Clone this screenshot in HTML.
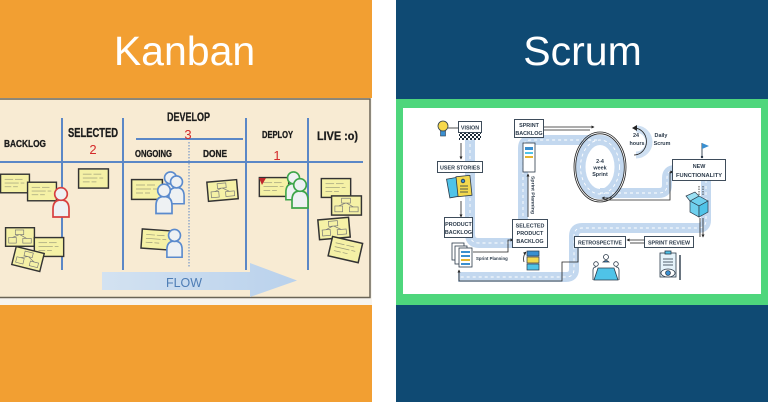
<!DOCTYPE html>
<html><head><meta charset="utf-8"><style>
html,body{margin:0;padding:0;background:#fff;}
svg{display:block;}
</style></head><body>
<svg width="768" height="402" viewBox="0 0 768 402" xmlns="http://www.w3.org/2000/svg">
<defs>
  <symbol id="note" viewBox="0 0 32 21" overflow="visible">
    <rect x="0.6" y="0.6" width="30.8" height="19.8" fill="#F5F1A6" stroke="#333" stroke-width="1.5"/>
    <g stroke="#9a9a7a" stroke-width="0.7">
      <line x1="5" y1="6" x2="14" y2="6"/><line x1="16" y1="6" x2="24" y2="6"/>
      <line x1="5" y1="10" x2="20" y2="10"/><line x1="22" y1="10" x2="26" y2="10"/>
      <line x1="5" y1="14" x2="12" y2="14"/><line x1="14" y1="14" x2="19" y2="14"/>
    </g>
  </symbol>
  <symbol id="notediag" viewBox="0 0 32 21" overflow="visible">
    <rect x="0.6" y="0.6" width="30.8" height="19.8" fill="#F5F1A6" stroke="#333" stroke-width="1.5"/>
    <g stroke="#777" stroke-width="0.7" fill="none">
      <rect x="11" y="3" width="9" height="5"/><rect x="4" y="11" width="8" height="6"/><rect x="19" y="12" width="9" height="5"/>
      <line x1="15" y1="8" x2="8" y2="11"/><line x1="16" y1="8" x2="23" y2="12"/>
    </g>
  </symbol>
  <symbol id="person" viewBox="0 0 20 32" overflow="visible">
    <path d="M2,31 L2,23 Q2,14 10,14 Q18,14 18,23 L18,31 Z" fill="#EEF1F3" stroke="currentColor" stroke-width="1.7"/>
    <circle cx="10" cy="8" r="6.3" fill="#EEF1F3" stroke="currentColor" stroke-width="1.7"/>
  </symbol>
  <pattern id="checker" width="4" height="4" patternUnits="userSpaceOnUse">
    <rect width="4" height="4" fill="#fff"/><rect width="2" height="2" fill="#1c2a38"/><rect x="2" y="2" width="2" height="2" fill="#1c2a38"/>
  </pattern>
  <marker id="ah" viewBox="0 0 6 6" refX="5" refY="3" markerWidth="4" markerHeight="4" orient="auto">
    <path d="M0,0 L6,3 L0,6 Z" fill="#222"/>
  </marker>
  <linearGradient id="flowg" x1="0" x2="1" y1="0" y2="0">
    <stop offset="0" stop-color="#D3E2F1"/><stop offset="1" stop-color="#B9D1EC"/>
  </linearGradient>
</defs>

<!-- backgrounds -->
<rect x="0" y="0" width="768" height="402" fill="#fff"/>
<rect x="0" y="0" width="372" height="402" fill="#F29F32"/>
<rect x="396" y="0" width="372" height="402" fill="#0F4A73"/>

<text x="184.5" y="65" font-family="Liberation Sans, sans-serif" font-size="41" fill="#fff" text-anchor="middle">Kanban</text>
<text x="582.5" y="65" font-family="Liberation Sans, sans-serif" font-size="41" fill="#fff" text-anchor="middle">Scrum</text>

<!-- ============ KANBAN ============ -->
<rect x="0" y="98" width="372" height="207" fill="#F7F4EE"/>
<rect x="-2" y="99" width="372" height="198.5" fill="#F8EBD3" stroke="#6a6456" stroke-width="1.5"/>

<g stroke="#5B87C6" stroke-width="2" fill="none">
  <line x1="0" y1="162" x2="363" y2="162"/>
  <line x1="62" y1="118" x2="62" y2="270"/>
  <line x1="123" y1="118" x2="123" y2="270"/>
  <line x1="246" y1="118" x2="246" y2="270"/>
  <line x1="308" y1="118" x2="308" y2="270"/>
  <line x1="136" y1="139" x2="243" y2="139"/>
  <line x1="189" y1="142" x2="189" y2="268" stroke-width="1" stroke-dasharray="1.5 1.5"/>
</g>

<g font-family="Liberation Sans, sans-serif" font-weight="bold" fill="#1c1c1c" stroke="#1c1c1c" stroke-width="0.3">
  <text x="4" y="147" font-size="10.5" textLength="42" lengthAdjust="spacingAndGlyphs">BACKLOG</text>
  <text x="68" y="137" font-size="12.5" textLength="50" lengthAdjust="spacingAndGlyphs">SELECTED</text>
  <text x="167" y="121" font-size="12" textLength="43" lengthAdjust="spacingAndGlyphs">DEVELOP</text>
  <text x="135" y="157" font-size="10" textLength="37" lengthAdjust="spacingAndGlyphs">ONGOING</text>
  <text x="203" y="157" font-size="10" textLength="24" lengthAdjust="spacingAndGlyphs">DONE</text>
  <text x="262" y="138" font-size="10" textLength="31" lengthAdjust="spacingAndGlyphs">DEPLOY</text>
  <text x="317" y="140" font-size="12" textLength="41" lengthAdjust="spacingAndGlyphs">LIVE :o)</text>
</g>
<g font-family="Liberation Sans, sans-serif" font-size="13" fill="#D42A2A" text-anchor="middle">
  <text x="93" y="154">2</text>
  <text x="188" y="139">3</text>
  <text x="277" y="160">1</text>
</g>

<!-- flow arrow -->
<polygon points="102,272 250,272 250,263 297,280.5 250,297 250,290 102,290" fill="url(#flowg)"/>
<text x="184" y="287" font-family="Liberation Sans, sans-serif" font-size="13" fill="#4E7DB5" text-anchor="middle" textLength="36" lengthAdjust="spacingAndGlyphs">FLOW</text>

<!-- notes backlog -->
<use href="#note" x="0" y="173" width="30" height="21"/>
<use href="#note" x="27" y="181" width="30" height="21"/>
<use href="#person" x="51" y="185" width="20" height="34" style="color:#D84040"/>
<use href="#notediag" x="5" y="227" width="30" height="20"/>
<use href="#note" x="33" y="237" width="32" height="20"/>
<use href="#notediag" x="13" y="249" width="30" height="20" transform="rotate(14 28 259)"/>

<!-- selected -->
<use href="#note" x="78" y="168" width="31" height="21"/>

<!-- ongoing -->
<use href="#note" x="131" y="179" width="32" height="21"/>
<use href="#person" x="161" y="167" width="19" height="37" style="color:#5A8ACD"/>
<use href="#person" x="167" y="171" width="19" height="37" style="color:#5A8ACD"/>
<use href="#person" x="154" y="182" width="20" height="33" style="color:#5A8ACD"/>
<use href="#note" x="141" y="229" width="31" height="21" transform="rotate(4 156 240)"/>
<use href="#person" x="165" y="226" width="19" height="34" style="color:#5A8ACD"/>

<!-- done -->
<use href="#notediag" x="207" y="180" width="31" height="21" transform="rotate(-5 222 190)"/>

<!-- deploy -->
<use href="#note" x="258" y="177" width="32" height="20"/>
<polygon points="259,178 266,178 262,185" fill="#C0282C"/>
<use href="#person" x="284" y="169" width="19" height="33" style="color:#3DA54A"/>
<use href="#person" x="290" y="177" width="20" height="32" style="color:#3DA54A"/>

<!-- live -->
<use href="#note" x="320" y="178" width="32" height="20"/>
<use href="#notediag" x="331" y="195" width="31" height="21"/>
<use href="#notediag" x="318" y="218" width="32" height="21" transform="rotate(-5 334 228)"/>
<use href="#note" x="329" y="239" width="33" height="21" transform="rotate(13 345 249)"/>

<!-- ============ SCRUM ============ -->
<rect x="396" y="99" width="372" height="206" fill="#4ED67C"/>
<rect x="403" y="108" width="358" height="186" fill="#fff"/>

<!-- roads -->
<g fill="none" stroke="#C3D8EF" stroke-width="10">
  <path d="M470,138 L470,234 Q470,243 479,243 L513,243"/>
  <path d="M523,222 L523,148 Q523,140 531,140 L600,140"/>
  <ellipse cx="600" cy="167" rx="19.5" ry="27"/>
  <path d="M600,193 L659,193 Q667,193 667,185 L667,178 Q667,170 675,170 L676,170"/>
  <path d="M706,180 L706,220 Q706,228 698,228 L582,228 Q574,228 574,236 L574,269 Q574,277 566,277 L458,277"/>
  <path d="M636,129 A13,13 0 1,1 636,155" stroke-width="7" stroke="#CFE0F2"/>
</g>
<g fill="none" stroke="#fff" stroke-width="0.9" stroke-dasharray="3 3">
  <path d="M470,138 L470,234 Q470,243 479,243 L513,243"/>
  <path d="M523,222 L523,148 Q523,140 531,140 L600,140"/>
  <ellipse cx="600" cy="167" rx="19.5" ry="27"/>
  <path d="M600,193 L659,193 Q667,193 667,185 L667,178 Q667,170 675,170 L676,170"/>
  <path d="M706,180 L706,220 Q706,228 698,228 L582,228 Q574,228 574,236 L574,269 Q574,277 566,277 L458,277"/>
</g>

<!-- black connector lines -->
<g fill="none" stroke="#222" stroke-width="0.8">
  <line x1="448" y1="128" x2="459" y2="128"/>
  <line x1="461" y1="143" x2="461" y2="159" marker-end="url(#ah)"/>
  <line x1="461" y1="201" x2="461" y2="217" marker-end="url(#ah)"/>
  <path d="M473,252 L508,252 L508,240 L513,240" marker-end="url(#ah)"/>
  <line x1="528" y1="217" x2="528" y2="174" marker-end="url(#ah)"/>
  <line x1="544" y1="127" x2="594" y2="127" marker-end="url(#ah)"/>
  <line x1="544" y1="130" x2="590" y2="130"/>
  <ellipse cx="600" cy="167" rx="26" ry="35"/>
  <ellipse cx="600" cy="167" rx="24.3" ry="33.2"/>
  <path d="M604,200 L670,200 L670,172 L673,172" marker-end="url(#ah)"/>
  <path d="M612,198 L602,198" marker-end="url(#ah)"/>
  <path d="M634,128 A12,13 0 1,1 634,155"/>
  <line x1="699" y1="186" x2="699" y2="196" stroke-dasharray="1.5 1"/>
  <line x1="703" y1="186" x2="703" y2="196" stroke-dasharray="1.5 1"/>
  <line x1="703" y1="218" x2="703" y2="237" marker-end="url(#ah)"/>
  <line x1="700" y1="218" x2="700" y2="237"/>
  <line x1="645" y1="240" x2="627" y2="240" marker-end="url(#ah)"/>
  <line x1="645" y1="243" x2="630" y2="243"/>
  <path d="M578,247 L578,262 L562,262 L562,281 L459,281 L459,270" marker-end="url(#ah)"/>
  <path d="M524,262 A5,8 0 0,1 526,252" marker-end="url(#ah)"/>
</g>
<path d="M632,128 L637,125 L637,131 Z" fill="#222"/>

<!-- boxes -->
<g fill="#fff" stroke="#2B3A4A" stroke-width="0.9">
  <rect x="458.5" y="121.5" width="23" height="11"/>
  <rect x="437.5" y="161.5" width="45" height="11"/>
  <rect x="444.5" y="217.5" width="28" height="20"/>
  <rect x="512.5" y="219.5" width="35" height="28"/>
  <rect x="514.5" y="119.5" width="29" height="18"/>
  <rect x="672.5" y="159.5" width="53" height="21"/>
  <rect x="644.5" y="236.5" width="49" height="11"/>
  <rect x="574.5" y="236.5" width="51" height="11"/>
</g>
<rect x="459" y="133" width="22" height="7" fill="url(#checker)"/>

<g font-family="Liberation Sans, sans-serif" font-weight="bold" font-size="5.4" fill="#2B3A4A" text-anchor="middle">
  <text x="470" y="129.5">VISION</text>
  <text x="460" y="169.5" textLength="40" lengthAdjust="spacingAndGlyphs">USER STORIES</text>
  <text x="458.5" y="226">PRODUCT</text>
  <text x="458.5" y="234">BACKLOG</text>
  <text x="530" y="227.5">SELECTED</text>
  <text x="530" y="235.2">PRODUCT</text>
  <text x="530" y="243">BACKLOG</text>
  <text x="529" y="127">SPRINT</text>
  <text x="529" y="135">BACKLOG</text>
  <text x="699" y="168">NEW</text>
  <text x="699" y="177" textLength="46" lengthAdjust="spacingAndGlyphs">FUNCTIONALITY</text>
  <text x="669" y="244.5" textLength="42" lengthAdjust="spacingAndGlyphs">SPRINT REVIEW</text>
  <text x="600" y="244.5" textLength="44" lengthAdjust="spacingAndGlyphs">RETROSPECTIVE</text>
  <text x="600" y="163">2-4</text>
  <text x="600" y="169.5">week</text>
  <text x="600" y="176">Sprint</text>
  <text x="636" y="137">24</text>
  <text x="637" y="145">hours</text>
  <text x="661" y="137">Daily</text>
  <text x="662" y="145">Scrum</text>
</g>
<g font-family="Liberation Sans, sans-serif" font-weight="bold" font-size="4.3" fill="#2B3A4A">
  <text x="476" y="260">Sprint Planning</text>
  <text x="0" y="0" transform="translate(531.5,176) rotate(90)" textLength="38" lengthAdjust="spacingAndGlyphs">Sprint Planning</text>
</g>

<!-- icons -->
<circle cx="443" cy="126" r="5" fill="#F6D84C" stroke="#2B3A4A" stroke-width="0.8"/>
<rect x="440.5" y="131" width="5" height="5" fill="#3A8FD0" stroke="#2B3A4A" stroke-width="0.6"/>
<g stroke="#2B3A4A" stroke-width="0.8">
  <rect x="448" y="178" width="13" height="19" fill="#4FC3E8" transform="rotate(-10 454 187)"/>
  <rect x="457" y="176" width="14" height="20" fill="#F4D94F" transform="rotate(-6 464 186)"/>
  <line x1="460" y1="186" x2="468" y2="186"/><line x1="460" y1="189" x2="468" y2="189"/><line x1="460" y1="192" x2="468" y2="192"/>
  <circle cx="463" cy="181" r="1.8" fill="#3A8FD0"/>
</g>
<g stroke="#2B3A4A" stroke-width="0.8" fill="#fff">
  <rect x="452" y="243" width="12" height="17"/>
  <rect x="455" y="246" width="12" height="18"/>
  <rect x="459" y="248" width="13" height="19"/>
</g>
<g fill="#3A8FD0"><rect x="461" y="251" width="9" height="2"/><rect x="461" y="255" width="9" height="2"/><rect x="461" y="259" width="9" height="2" fill="#E5B530"/><rect x="461" y="263" width="9" height="2"/></g>
<rect x="523" y="143" width="12" height="29" fill="#fff" stroke="#2B3A4A" stroke-width="0.8"/>
<rect x="525" y="147" width="8" height="3" fill="#3A8FD0"/><rect x="525" y="152" width="8" height="2" fill="#4FC3E8"/><rect x="525" y="156" width="8" height="2" fill="#E5B530"/>
<g stroke="#2B3A4A" stroke-width="0.7">
  <rect x="527" y="251" width="12" height="5" fill="#3A8FD0"/>
  <rect x="527" y="257" width="12" height="6" fill="#F4D94F"/>
  <rect x="527" y="264" width="12" height="6" fill="#4FC3E8"/>
</g>
<line x1="702" y1="143" x2="702" y2="157" stroke="#2B3A4A" stroke-width="0.9"/>
<polygon points="702,143 709,146 702,149" fill="#3A8FD0"/>
<circle cx="702" cy="157" r="1.2" fill="#2B3A4A"/>
<g stroke="#2B3A4A" stroke-width="0.7" fill="#6FD0EE">
  <polygon points="690,201 699,196 708,201 699,206"/>
  <polygon points="690,201 699,206 699,217 690,212"/>
  <polygon points="708,201 699,206 699,217 708,212" fill="#4FC3E8"/>
  <polygon points="690,201 686,196 695,192 699,196" fill="#9BE0F3"/>
</g>
<g stroke="#2B3A4A" stroke-width="0.8">
  <circle cx="606" cy="257" r="2.5" fill="#fff"/>
  <circle cx="596" cy="264" r="2.3" fill="#fff"/>
  <circle cx="616" cy="264" r="2.3" fill="#fff"/>
  <path d="M603,262 Q606,259 609,262 Z" fill="#3A8FD0"/>
  <polygon points="598,268 614,268 618,280 594,280" fill="#4FC3E8"/>
  <path d="M593,280 L593,270 Q593,267 596,267" fill="none"/>
  <path d="M619,280 L619,270 Q619,267 616,267" fill="none"/>
</g>
<g stroke="#2B3A4A" stroke-width="0.8">
  <rect x="660" y="253" width="16" height="24" fill="#E6F4FB"/>
  <rect x="665" y="251" width="6" height="3" fill="#4FC3E8"/>
  <line x1="663" y1="259" x2="673" y2="259"/><line x1="663" y1="262" x2="673" y2="262"/><line x1="663" y1="265" x2="673" y2="265"/>
  <ellipse cx="668" cy="273" rx="7" ry="4" fill="#fff"/>
  <circle cx="668" cy="273" r="2.4" fill="#3A8FD0"/>
  <line x1="680" y1="255" x2="680" y2="280" stroke-width="1.4"/>
</g>
</svg>
</body></html>
